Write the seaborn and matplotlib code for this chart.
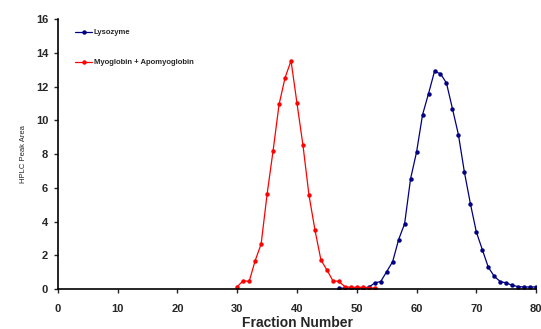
import numpy as np
import pandas as pd
import matplotlib
matplotlib.use("Agg")
import matplotlib.pyplot as plt
import seaborn as sns

# Fraction numbers and HPLC peak areas
lyso_fraction = list(range(47, 81))
lyso_area = [0.05, 0.05, 0.05, 0.05, 0.08, 0.1, 0.36, 0.44, 1.03, 1.62,
             2.93, 3.87, 6.54, 8.12, 10.33, 11.58, 12.9, 12.76, 12.21, 10.69,
             9.15, 6.93, 5.06, 3.38, 2.33, 1.29, 0.75, 0.44, 0.36, 0.22,
             0.14, 0.12, 0.12, 0.12]

myo_fraction = list(range(30, 54))
myo_area = [0.14, 0.49, 0.45, 1.68, 2.67, 5.63, 8.2, 10.94, 12.52, 13.53,
            11.0, 8.51, 5.57, 3.5, 1.72, 1.13, 0.49, 0.45, 0.14, 0.1,
            0.1, 0.1, 0.06, 0.06]

series_names = ["Lysozyme", "Myoglobin + Apomyoglobin"]
series_colors = ["#000080", "#FF0000"]

x_ticks = list(range(0, 81, 10))
y_ticks = list(range(0, 17, 2))

df = pd.concat([
    pd.DataFrame({"Fraction": lyso_fraction, "Area": lyso_area, "Protein": series_names[0]}),
    pd.DataFrame({"Fraction": myo_fraction, "Area": myo_area, "Protein": series_names[1]}),
], ignore_index=True)

sns.set_style("ticks")
plt.rcParams["font.family"] = ["Liberation Sans", "DejaVu Sans"]

fig = plt.figure(figsize=(5.41, 3.29), dpi=100)
ax = fig.add_axes([0.107, 0.1216, 0.884, 0.8204])

sns.lineplot(data=df, x="Fraction", y="Area", hue="Protein",
             hue_order=series_names, palette=series_colors,
             marker="o", markersize=3.2, markeredgewidth=0,
             linewidth=0.9, ax=ax, estimator=None, sort=True)

ax.set_xlim(0, 80)
ax.set_ylim(0, 16)
ax.set_xticks(x_ticks)
ax.set_yticks(y_ticks)
ax.tick_params(axis="both", direction="out", length=3, width=1, labelsize=8)
ax.tick_params(axis="x", pad=8)
ax.tick_params(axis="y", pad=4)
for lbl in ax.get_xticklabels() + ax.get_yticklabels():
    lbl.set_fontweight("bold")
for s in ["top", "right"]:
    ax.spines[s].set_visible(False)
for s in ["left", "bottom"]:
    ax.spines[s].set_linewidth(1.2)
    ax.spines[s].set_color("black")

ax.set_xlabel("Fraction Number", fontsize=10, fontweight="bold", labelpad=1)
ax.set_ylabel("HPLC Peak Area", fontsize=5.5, labelpad=6)

leg = ax.legend(loc="upper left", bbox_to_anchor=(0.03, 0.975), frameon=False,
                fontsize=5.5, handlelength=2.2, handletextpad=0.2,
                labelspacing=3.0, borderaxespad=0)
for t in leg.get_texts():
    t.set_fontweight("bold")

fig.savefig("out.png", dpi=100)
